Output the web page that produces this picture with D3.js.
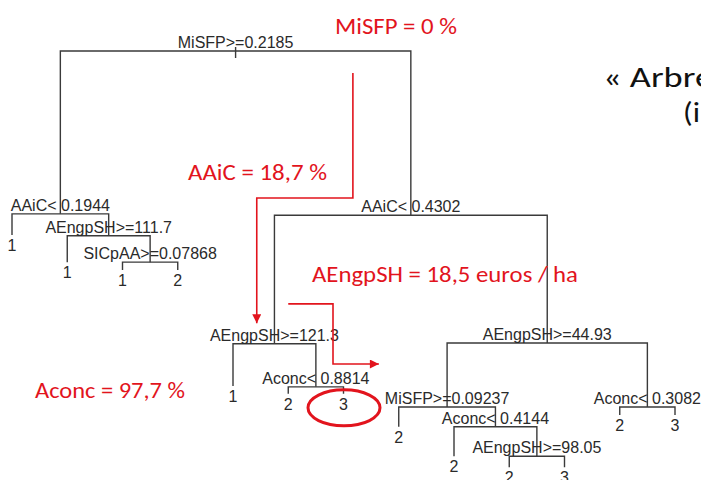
<!DOCTYPE html>
<html>
<head>
<meta charset="utf-8">
<script src="https://cdn.jsdelivr.net/npm/d3@7/dist/d3.min.js"></script>
<style>
  body { margin: 0; background: #fff; }
  svg { display: block; }
</style>
</head>
<body>
<div id="tree"></div>
<script>
// rpart frame in preorder: node number, split or class label, node height (relative deviance)
const nodeIds = [1, 2, 4, 5, 10, 11, 22, 23, 3, 6, 12, 13, 26, 27, 7, 14, 28, 29, 58, 59, 118, 119, 15, 30, 31];
const nodeLabels = [
  "MiSFP>=0.2185", "AAiC< 0.1944", "1", "AEngpSH>=111.7", "1", "SICpAA>=0.07868", "1", "2",
  "AAiC< 0.4302", "AEngpSH>=121.3", "1", "Aconc< 0.8814", "2", "3",
  "AEngpSH>=44.93", "MiSFP>=0.09237", "2", "Aconc< 0.4144", "2", "AEngpSH>=98.05", "2", "3",
  "Aconc< 0.3082", "2", "3"
];
const nodeHeights = [
  1.000, 0.629, 0.581, 0.579, 0.519, 0.519, 0.501, 0.501,
  0.626, 0.333, 0.237, 0.235, 0.219, 0.219,
  0.335, 0.189, 0.144, 0.144, 0.077, 0.077, 0.052, 0.052,
  0.189, 0.171, 0.171
];

// red notes written on the slide
const noteTexts = ["MiSFP = 0 %", "AAiC = 18,7 %", "AEngpSH = 18,5 euros / ha", "Aconc = 97,7 %"];
const titleLines = ["« Arbre", "(i"];

const width = 701, height = 480;
const red = "#e2141d";

const svg = d3.select("#tree").append("svg")
  .attr("width", width)
  .attr("height", height);

const byId = new Map(nodeIds.map((id, i) => [id, { id, label: nodeLabels[i], h: nodeHeights[i] }]));
const isLeaf = id => !byId.has(id * 2);

// leaves numbered left to right, parents midway between their children (like rpartco)
let leafCount = 0;
nodeIds.forEach(id => { if (isLeaf(id)) byId.get(id).pos = ++leafCount; });
function place(id) {
  const n = byId.get(id);
  if (!isLeaf(id)) n.pos = (place(id * 2) + place(id * 2 + 1)) / 2;
  return n.pos;
}
place(1);

const x = d3.scaleLinear().domain([1, leafCount]).range([12, 675]);
const y = d3.scaleLinear().domain([0, 1]).range([490, 51]);

const line = d3.line().x(d => x(d[0])).y(d => y(d[1]));

// branches
const branches = svg.append("g")
  .attr("fill", "none")
  .attr("stroke", "#3a3a3a")
  .attr("stroke-width", 1.4);

nodeIds.filter(id => !isLeaf(id)).forEach(id => {
  const n = byId.get(id), l = byId.get(id * 2), r = byId.get(id * 2 + 1);
  branches.append("path")
    .attr("d", line([[l.pos, l.h], [l.pos, n.h], [r.pos, n.h], [r.pos, r.h]]));
});

const root = byId.get(1);
branches.append("line")
  .attr("x1", x(root.pos)).attr("x2", x(root.pos))
  .attr("y1", y(root.h) - 4).attr("y2", y(root.h) + 7);

// split and class labels
svg.append("g")
  .attr("font-family", "'Liberation Sans', Arial, sans-serif")
  .attr("font-size", 16)
  .attr("fill", "#2a2a2a")
  .attr("text-anchor", "middle")
  .selectAll("text")
  .data(nodeIds.map(id => byId.get(id)))
  .join("text")
  .attr("x", d => x(d.pos))
  .attr("y", d => isLeaf(d.id) ? y(d.h) + 16 : y(d.h) - 3)
  .text(d => d.label);

// red annotations
const defs = svg.append("defs");
defs.append("marker")
  .attr("id", "head")
  .attr("viewBox", "0 0 10 10")
  .attr("refX", 10).attr("refY", 5)
  .attr("markerWidth", 10).attr("markerHeight", 9)
  .attr("markerUnits", "userSpaceOnUse")
  .attr("orient", "auto")
  .append("path")
  .attr("d", "M0,0L10,5L0,10Z")
  .attr("fill", red);

const arrows = [
  [[7.17, 0.950], [7.17, 0.665], [5.43, 0.665], [5.43, 0.380]],
  [[6.0, 0.424], [6.81, 0.424], [6.81, 0.287], [7.64, 0.287]]
];
svg.append("g")
  .attr("fill", "none")
  .attr("stroke", red)
  .attr("stroke-width", 1.6)
  .selectAll("path")
  .data(arrows)
  .join("path")
  .attr("d", line)
  .attr("marker-end", "url(#head)");

// ring around the class-3 leaf under Aconc< 0.8814
const circled = byId.get(27);
svg.append("ellipse")
  .attr("cx", x(circled.pos) + 0.5)
  .attr("cy", y(circled.h) + 14)
  .attr("rx", 36)
  .attr("ry", 18)
  .attr("fill", "none")
  .attr("stroke", red)
  .attr("stroke-width", 3);

const notePos = [
  { x: 335, y: 34, w: 122 },
  { x: 188, y: 180, w: 139 },
  { x: 312, y: 282, w: 266 },
  { x: 35, y: 398, w: 150 }
];
svg.append("g")
  .attr("font-family", "Carlito, Lato, 'Open Sans', sans-serif")
  .attr("font-size", 22)
  .attr("fill", red)
  .selectAll("text")
  .data(noteTexts)
  .join("text")
  .attr("x", (d, i) => notePos[i].x)
  .attr("y", (d, i) => notePos[i].y)
  .attr("textLength", (d, i) => notePos[i].w)
  .attr("lengthAdjust", "spacingAndGlyphs")
  .text(d => d);

// slide title, cut by the right edge
const titlePos = [{ x: 603, y: 87, w: 110 }, { x: 683, y: 122, w: 17 }];
svg.append("g")
  .attr("font-family", "Carlito, Lato, 'Open Sans', sans-serif")
  .attr("font-size", 28)
  .attr("fill", "#111")
  .selectAll("text")
  .data(titleLines)
  .join("text")
  .attr("x", (d, i) => titlePos[i].x)
  .attr("y", (d, i) => titlePos[i].y)
  .attr("textLength", (d, i) => titlePos[i].w)
  .attr("lengthAdjust", "spacingAndGlyphs")
  .text(d => d);
</script>
</body>
</html>
